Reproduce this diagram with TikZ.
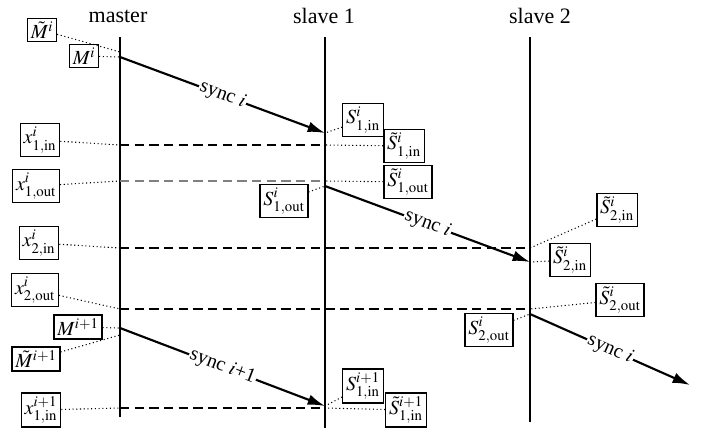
\documentclass[tikz,border=0pt]{standalone}
\usepackage{mathptmx}
\usepackage{fontspec}
\setmainfont{Liberation Serif}
\usetikzlibrary{arrows.meta}
\begin{document}
\begin{tikzpicture}[x=.75pt,y=-.75pt,>={Latex[length=13pt,width=8pt]},
 every node/.style={font=\fontsize{15}{17}\selectfont},
 head/.style={font=\fontsize{16.5}{18}\selectfont},
 box/.style={draw,line width=1pt,inner sep=2.5pt,fill=white},
 dots/.style={dotted,line width=.8pt},
 lifeline/.style={line width=1.6pt},
 sig/.style={->,line width=1.6pt},
 gap/.style={dash pattern=on 7pt off 4pt,line width=1.3pt},
 thingap/.style={dash pattern=on 7pt off 4pt,line width=.8pt,gray}]
 \useasboundingbox (0,0) rectangle (702,437);
 % headers and time lines
 \node[head] (hm) at (118,16) {master};
 \node[head] (h1) at (324,16) {slave 1};
 \node[head] (h2) at (540,16) {slave 2};
 \draw[lifeline] (120,37) -- (120,417);
 \draw[lifeline] (325,37) -- (325,428);
 \draw[lifeline] (530,37) -- (530,422);
 % points on the master line
 \coordinate (m1) at (120,52);
 \coordinate (ms) at (120,57);
 \coordinate (x1in) at (120,145);
 \coordinate (x1out) at (120,181);
 \coordinate (x2in) at (120,248);
 \coordinate (x2out) at (120,309);
 \coordinate (ms2) at (120,328);
 \coordinate (mt2) at (120,335);
 \coordinate (x1in2) at (120,408);
 % points on the slave lines
 \coordinate (a1) at (325,133);
 \coordinate (d1) at (325,145);
 \coordinate (d2) at (325,181);
 \coordinate (s1o) at (325,186);
 \coordinate (a4) at (325,406);
 \coordinate (d5) at (325,408);
 \coordinate (t2) at (530,248);
 \coordinate (a2) at (530,262);
 \coordinate (d4) at (530,309);
 \coordinate (s2o) at (530,314);
 \coordinate (end) at (690,385);
 % dashed levels
 \draw[gap] (x1in) -- (d1);
 \draw[thingap] (x1out) -- (d2);
 \draw[gap] (x2in) -- (t2);
 \draw[gap] (x2out) -- (d4);
 \draw[gap] (x1in2) -- (d5);
 % sync messages
 \draw[sig] (ms) -- (a1) node[midway,sloped,fill=white,inner sep=1pt] {sync $i$};
 \draw[sig] (s1o) -- (a2) node[midway,sloped,fill=white,inner sep=1pt] {sync $i$};
 \draw[sig] (s2o) -- (end) node[pos=.5,sloped,fill=white,inner sep=1pt] {sync $i$};
 \draw[sig] (ms2) -- (a4) node[midway,sloped,fill=white,inner sep=1pt] {sync $i$+1};
 % master boxes
 \node[box] (Mt1) at (42,30) {$\tilde{M}^{i}$};
 \node[box] (M1) at (84,56) {$M^{i}$};
 \node[box] (X1in) at (40,140) {$x^{i}_{1,\mathrm{in}}$};
 \node[box] (X1out) at (36,186) {$x^{i}_{1,\mathrm{out}}$};
 \node[box] (X2in) at (39,243) {$x^{i}_{2,\mathrm{in}}$};
 \node[box] (X2out) at (35,290) {$x^{i}_{2,\mathrm{out}}$};
 \node[box] (M2) at (78,327) {$M^{i+1}$};
 \node[box] (Mt2) at (36,359) {$\tilde{M}^{i+1}$};
 \node[box] (X1in2) at (41,410) {$x^{i+1}_{1,\mathrm{in}}$};
 % slave boxes
 \node[box] (S1in) at (363,120) {$S^{i}_{1,\mathrm{in}}$};
 \node[box] (St1in) at (404,146) {$\tilde{S}^{i}_{1,\mathrm{in}}$};
 \node[box] (St1out) at (408,182) {$\tilde{S}^{i}_{1,\mathrm{out}}$};
 \node[box] (S1out) at (284,201) {$S^{i}_{1,\mathrm{out}}$};
 \node[box] (St2inA) at (617,210) {$\tilde{S}^{i}_{2,\mathrm{in}}$};
 \node[box] (St2inB) at (570,260) {$\tilde{S}^{i}_{2,\mathrm{in}}$};
 \node[box] (St2out) at (620,300) {$\tilde{S}^{i}_{2,\mathrm{out}}$};
 \node[box] (S2out) at (489,330) {$S^{i}_{2,\mathrm{out}}$};
 \node[box] (S1in2) at (363,386) {$S^{i+1}_{1,\mathrm{in}}$};
 \node[box] (St1in2) at (406,410) {$\tilde{S}^{i+1}_{1,\mathrm{in}}$};
 % dotted leaders
 \draw[dots] (Mt1) -- (m1);
 \draw[dots] (M1) -- (ms);
 \draw[dots] (X1in) -- (x1in);
 \draw[dots] (X1out) -- (x1out);
 \draw[dots] (X2in) -- (x2in);
 \draw[dots] (X2out) -- (x2out);
 \draw[dots] (M2) -- (ms2);
 \draw[dots] (Mt2) -- (mt2);
 \draw[dots] (X1in2) -- (x1in2);
 \draw[dots] (S1in) -- (a1);
 \draw[dots] (St1in) -- (d1);
 \draw[dots] (St1out) -- (d2);
 \draw[dots] (S1out) -- (s1o);
 \draw[dots] (St2inA) -- (t2);
 \draw[dots] (St2inB) -- (a2);
 \draw[dots] (St2out) -- (d4);
 \draw[dots] (S2out) -- (s2o);
 \draw[dots] (S1in2) -- (a4);
 \draw[dots] (St1in2) -- (d5);
\end{tikzpicture}
\end{document}
